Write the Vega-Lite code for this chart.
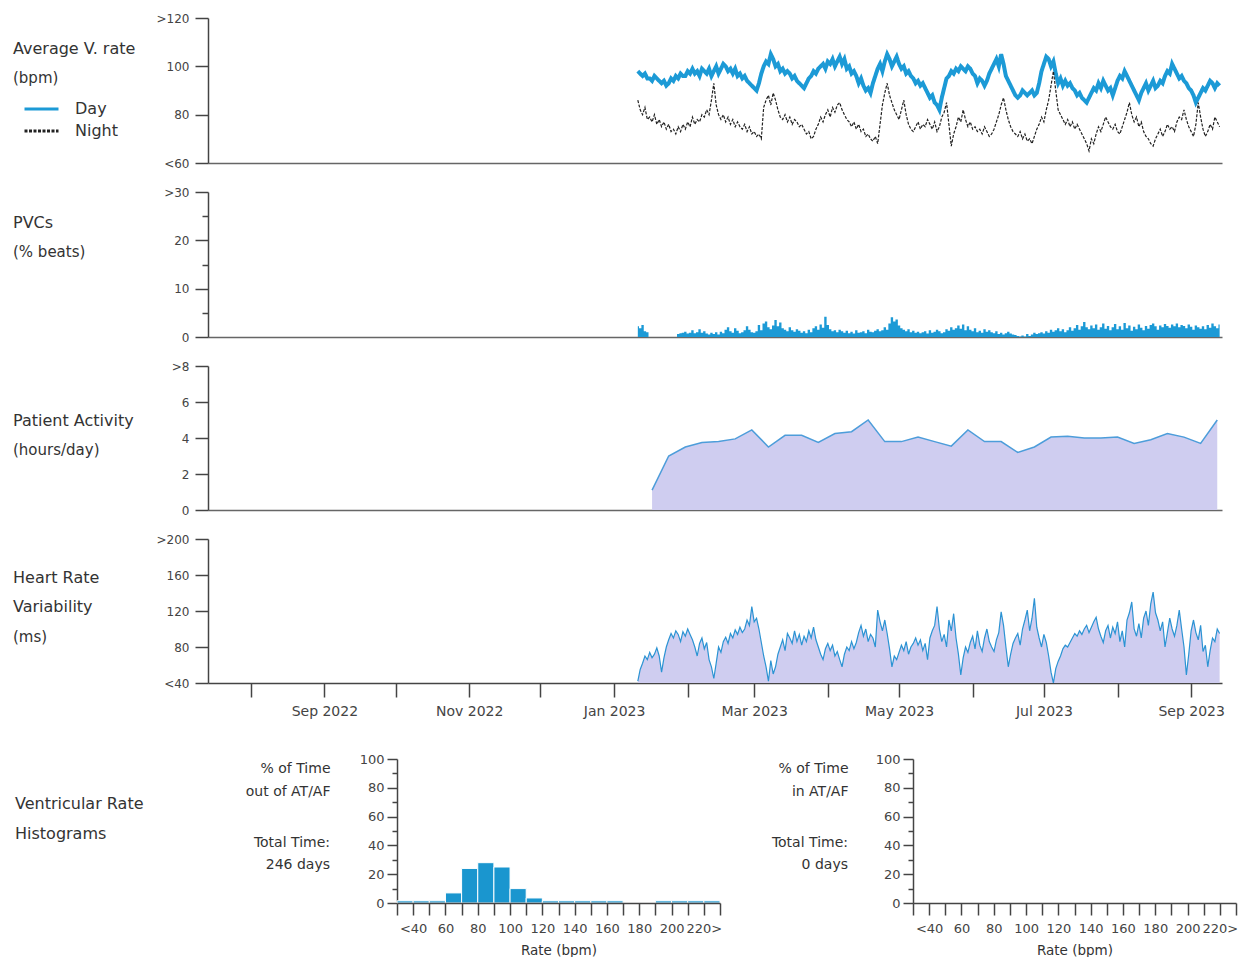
{
"$schema":"https://vega.github.io/schema/vega-lite/v6.json",
"background":"white",
"padding":{"left":13,"top":12,"right":0,"bottom":0},
"config":{"font":"DejaVu Sans","view":{"stroke":null},
 "axis":{"grid":false,"domainColor":"#444","tickColor":"#444","labelColor":"#444","labelFontSize":12,"domainWidth":1.5,"tickWidth":1.5,"titleFontWeight":"normal","titleColor":"#333","labelOverlap":false,"labelFlush":false},
 "title":{"fontWeight":"normal","color":"#333","subtitleColor":"#333","anchor":"start","frame":"group","fontSize":16,"subtitleFontSize":15,"offset":0,"subtitlePadding":14}},
"datasets":{
"daily":[
{"date":"2023-01-11","day":98,"night":86,"pvc":2.2,"hrv":42},
{"date":"2023-01-12","day":97,"night":82,"pvc":1.8,"hrv":55},
{"date":"2023-01-13","day":96,"night":80,"pvc":2.5,"hrv":62},
{"date":"2023-01-14","day":97,"night":83,"pvc":1.2,"hrv":70},
{"date":"2023-01-15","day":95,"night":78,"pvc":1.0,"hrv":66},
{"date":"2023-01-16","day":95,"night":79,"pvc":0,"hrv":74},
{"date":"2023-01-17","day":94,"night":77,"pvc":0,"hrv":68},
{"date":"2023-01-18","day":96,"night":80,"pvc":0,"hrv":72},
{"date":"2023-01-19","day":95,"night":76,"pvc":0,"hrv":79},
{"date":"2023-01-20","day":94,"night":78,"pvc":0,"hrv":70},
{"date":"2023-01-21","day":93,"night":75,"pvc":0,"hrv":52},
{"date":"2023-01-22","day":94,"night":77,"pvc":0,"hrv":68},
{"date":"2023-01-23","day":92,"night":74,"pvc":0,"hrv":80},
{"date":"2023-01-24","day":93,"night":76,"pvc":0,"hrv":88},
{"date":"2023-01-25","day":95,"night":73,"pvc":0,"hrv":95},
{"date":"2023-01-26","day":94,"night":74,"pvc":0,"hrv":90},
{"date":"2023-01-27","day":96,"night":72,"pvc":0,"hrv":98},
{"date":"2023-01-28","day":95,"night":75,"pvc":0.6,"hrv":94},
{"date":"2023-01-29","day":97,"night":73,"pvc":0.8,"hrv":86},
{"date":"2023-01-30","day":96,"night":76,"pvc":0.9,"hrv":97},
{"date":"2023-01-31","day":96,"night":74,"pvc":1.1,"hrv":92},
{"date":"2023-02-01","day":98,"night":77,"pvc":0.7,"hrv":100},
{"date":"2023-02-02","day":97,"night":75,"pvc":0.9,"hrv":94},
{"date":"2023-02-03","day":99,"night":79,"pvc":1.4,"hrv":88},
{"date":"2023-02-04","day":97,"night":76,"pvc":0.8,"hrv":80},
{"date":"2023-02-05","day":98,"night":78,"pvc":1.0,"hrv":70},
{"date":"2023-02-06","day":96,"night":77,"pvc":1.6,"hrv":84},
{"date":"2023-02-07","day":99,"night":80,"pvc":0.9,"hrv":90},
{"date":"2023-02-08","day":98,"night":79,"pvc":1.2,"hrv":78},
{"date":"2023-02-09","day":97,"night":82,"pvc":0.7,"hrv":85},
{"date":"2023-02-10","day":99,"night":80,"pvc":0.5,"hrv":66},
{"date":"2023-02-11","day":96,"night":86,"pvc":0.9,"hrv":58},
{"date":"2023-02-12","day":98,"night":93,"pvc":0.6,"hrv":45},
{"date":"2023-02-13","day":100,"night":84,"pvc":1.0,"hrv":62},
{"date":"2023-02-14","day":97,"night":80,"pvc":0.5,"hrv":80},
{"date":"2023-02-15","day":99,"night":78,"pvc":1.1,"hrv":74},
{"date":"2023-02-16","day":101,"night":80,"pvc":0.8,"hrv":86},
{"date":"2023-02-17","day":100,"night":77,"pvc":1.5,"hrv":91},
{"date":"2023-02-18","day":98,"night":79,"pvc":2.0,"hrv":84},
{"date":"2023-02-19","day":99,"night":76,"pvc":1.2,"hrv":95},
{"date":"2023-02-20","day":97,"night":78,"pvc":0.9,"hrv":90},
{"date":"2023-02-21","day":99,"night":75,"pvc":1.8,"hrv":99},
{"date":"2023-02-22","day":96,"night":77,"pvc":1.3,"hrv":94},
{"date":"2023-02-23","day":97,"night":75,"pvc":0.8,"hrv":102},
{"date":"2023-02-24","day":95,"night":74,"pvc":1.0,"hrv":96},
{"date":"2023-02-25","day":96,"night":76,"pvc":1.4,"hrv":100},
{"date":"2023-02-26","day":94,"night":73,"pvc":2.2,"hrv":110},
{"date":"2023-02-27","day":93,"night":75,"pvc":1.5,"hrv":104},
{"date":"2023-02-28","day":92,"night":72,"pvc":1.0,"hrv":125},
{"date":"2023-03-01","day":91,"night":73,"pvc":0.9,"hrv":108},
{"date":"2023-03-02","day":90,"night":71,"pvc":1.2,"hrv":112},
{"date":"2023-03-03","day":93,"night":72,"pvc":2.5,"hrv":100},
{"date":"2023-03-04","day":97,"night":70,"pvc":1.4,"hrv":85},
{"date":"2023-03-05","day":100,"night":83,"pvc":2.8,"hrv":70},
{"date":"2023-03-06","day":102,"night":86,"pvc":3.2,"hrv":58},
{"date":"2023-03-07","day":101,"night":88,"pvc":2.0,"hrv":42},
{"date":"2023-03-08","day":105,"night":84,"pvc":1.6,"hrv":65},
{"date":"2023-03-09","day":103,"night":89,"pvc":2.4,"hrv":50},
{"date":"2023-03-10","day":100,"night":86,"pvc":3.5,"hrv":58},
{"date":"2023-03-11","day":101,"night":82,"pvc":2.2,"hrv":72},
{"date":"2023-03-12","day":98,"night":79,"pvc":3.0,"hrv":80},
{"date":"2023-03-13","day":99,"night":78,"pvc":1.8,"hrv":88},
{"date":"2023-03-14","day":97,"night":80,"pvc":1.5,"hrv":76},
{"date":"2023-03-15","day":98,"night":77,"pvc":1.2,"hrv":95},
{"date":"2023-03-16","day":97,"night":79,"pvc":2.0,"hrv":90},
{"date":"2023-03-17","day":95,"night":76,"pvc":1.4,"hrv":84},
{"date":"2023-03-18","day":96,"night":78,"pvc":1.1,"hrv":98},
{"date":"2023-03-19","day":94,"night":77,"pvc":1.6,"hrv":86},
{"date":"2023-03-20","day":93,"night":75,"pvc":1.3,"hrv":94},
{"date":"2023-03-21","day":92,"night":76,"pvc":0.9,"hrv":82},
{"date":"2023-03-22","day":91,"night":74,"pvc":1.2,"hrv":92},
{"date":"2023-03-23","day":93,"night":72,"pvc":0.8,"hrv":86},
{"date":"2023-03-24","day":95,"night":73,"pvc":1.5,"hrv":98},
{"date":"2023-03-25","day":96,"night":70,"pvc":1.0,"hrv":90},
{"date":"2023-03-26","day":98,"night":71,"pvc":1.8,"hrv":102},
{"date":"2023-03-27","day":97,"night":74,"pvc":2.2,"hrv":88},
{"date":"2023-03-28","day":99,"night":76,"pvc":1.5,"hrv":80},
{"date":"2023-03-29","day":100,"night":79,"pvc":2.6,"hrv":72},
{"date":"2023-03-30","day":101,"night":77,"pvc":1.9,"hrv":66},
{"date":"2023-03-31","day":99,"night":80,"pvc":4.2,"hrv":78},
{"date":"2023-04-01","day":102,"night":82,"pvc":2.5,"hrv":84},
{"date":"2023-04-02","day":101,"night":79,"pvc":1.6,"hrv":76},
{"date":"2023-04-03","day":103,"night":83,"pvc":1.2,"hrv":82},
{"date":"2023-04-04","day":100,"night":81,"pvc":1.4,"hrv":70},
{"date":"2023-04-05","day":102,"night":84,"pvc":1.0,"hrv":75},
{"date":"2023-04-06","day":104,"night":85,"pvc":1.5,"hrv":66},
{"date":"2023-04-07","day":101,"night":82,"pvc":1.2,"hrv":58},
{"date":"2023-04-08","day":103,"night":80,"pvc":0.9,"hrv":72},
{"date":"2023-04-09","day":99,"night":78,"pvc":1.3,"hrv":80},
{"date":"2023-04-10","day":100,"night":77,"pvc":0.8,"hrv":76},
{"date":"2023-04-11","day":97,"night":75,"pvc":1.1,"hrv":86},
{"date":"2023-04-12","day":98,"night":77,"pvc":0.7,"hrv":78},
{"date":"2023-04-13","day":96,"night":74,"pvc":1.4,"hrv":85},
{"date":"2023-04-14","day":93,"night":76,"pvc":0.9,"hrv":96},
{"date":"2023-04-15","day":95,"night":73,"pvc":1.0,"hrv":104},
{"date":"2023-04-16","day":92,"night":74,"pvc":1.2,"hrv":92},
{"date":"2023-04-17","day":90,"night":71,"pvc":0.8,"hrv":100},
{"date":"2023-04-18","day":91,"night":72,"pvc":1.5,"hrv":86},
{"date":"2023-04-19","day":89,"night":70,"pvc":1.1,"hrv":94},
{"date":"2023-04-20","day":93,"night":69,"pvc":1.0,"hrv":90},
{"date":"2023-04-21","day":96,"night":71,"pvc":1.3,"hrv":80},
{"date":"2023-04-22","day":99,"night":68,"pvc":1.6,"hrv":121},
{"date":"2023-04-23","day":101,"night":76,"pvc":1.2,"hrv":108},
{"date":"2023-04-24","day":98,"night":84,"pvc":1.4,"hrv":98},
{"date":"2023-04-25","day":102,"night":89,"pvc":2.0,"hrv":110},
{"date":"2023-04-26","day":105,"night":93,"pvc":1.5,"hrv":95},
{"date":"2023-04-27","day":103,"night":88,"pvc":2.8,"hrv":78},
{"date":"2023-04-28","day":100,"night":85,"pvc":4.1,"hrv":58},
{"date":"2023-04-29","day":102,"night":82,"pvc":3.2,"hrv":70},
{"date":"2023-04-30","day":104,"night":80,"pvc":3.6,"hrv":66},
{"date":"2023-05-01","day":101,"night":78,"pvc":2.4,"hrv":74},
{"date":"2023-05-02","day":99,"night":82,"pvc":1.8,"hrv":82},
{"date":"2023-05-03","day":100,"night":86,"pvc":1.5,"hrv":76},
{"date":"2023-05-04","day":97,"night":80,"pvc":1.2,"hrv":86},
{"date":"2023-05-05","day":98,"night":76,"pvc":1.6,"hrv":72},
{"date":"2023-05-06","day":96,"night":74,"pvc":1.0,"hrv":80},
{"date":"2023-05-07","day":95,"night":73,"pvc":1.3,"hrv":84},
{"date":"2023-05-08","day":93,"night":75,"pvc":0.9,"hrv":90},
{"date":"2023-05-09","day":94,"night":77,"pvc":1.1,"hrv":82},
{"date":"2023-05-10","day":92,"night":74,"pvc":0.8,"hrv":88},
{"date":"2023-05-11","day":93,"night":76,"pvc":1.0,"hrv":76},
{"date":"2023-05-12","day":91,"night":75,"pvc":1.2,"hrv":84},
{"date":"2023-05-13","day":89,"night":78,"pvc":0.7,"hrv":66},
{"date":"2023-05-14","day":87,"night":76,"pvc":1.4,"hrv":90},
{"date":"2023-05-15","day":88,"night":74,"pvc":0.9,"hrv":98},
{"date":"2023-05-16","day":85,"night":77,"pvc":1.1,"hrv":104},
{"date":"2023-05-17","day":84,"night":73,"pvc":1.5,"hrv":125},
{"date":"2023-05-18","day":82,"night":75,"pvc":1.2,"hrv":100},
{"date":"2023-05-19","day":87,"night":79,"pvc":0.8,"hrv":86},
{"date":"2023-05-20","day":91,"night":81,"pvc":1.0,"hrv":94},
{"date":"2023-05-21","day":95,"night":85,"pvc":1.6,"hrv":80},
{"date":"2023-05-22","day":96,"night":76,"pvc":1.3,"hrv":110},
{"date":"2023-05-23","day":98,"night":67,"pvc":2.0,"hrv":98},
{"date":"2023-05-24","day":97,"night":72,"pvc":1.5,"hrv":117},
{"date":"2023-05-25","day":99,"night":75,"pvc":1.8,"hrv":90},
{"date":"2023-05-26","day":98,"night":79,"pvc":2.4,"hrv":72},
{"date":"2023-05-27","day":100,"night":77,"pvc":1.7,"hrv":49},
{"date":"2023-05-28","day":99,"night":82,"pvc":2.6,"hrv":68},
{"date":"2023-05-29","day":98,"night":78,"pvc":1.4,"hrv":80},
{"date":"2023-05-30","day":100,"night":75,"pvc":2.2,"hrv":74},
{"date":"2023-05-31","day":99,"night":77,"pvc":1.5,"hrv":85},
{"date":"2023-06-01","day":97,"night":74,"pvc":1.2,"hrv":92},
{"date":"2023-06-02","day":96,"night":75,"pvc":1.8,"hrv":78},
{"date":"2023-06-03","day":93,"night":73,"pvc":1.0,"hrv":98},
{"date":"2023-06-04","day":95,"night":74,"pvc":1.3,"hrv":82},
{"date":"2023-06-05","day":94,"night":72,"pvc":0.9,"hrv":75},
{"date":"2023-06-06","day":92,"night":75,"pvc":1.6,"hrv":90},
{"date":"2023-06-07","day":94,"night":73,"pvc":1.1,"hrv":100},
{"date":"2023-06-08","day":97,"night":71,"pvc":1.4,"hrv":86},
{"date":"2023-06-09","day":99,"night":72,"pvc":1.0,"hrv":80},
{"date":"2023-06-10","day":101,"night":74,"pvc":0.8,"hrv":75},
{"date":"2023-06-11","day":103,"night":77,"pvc":1.2,"hrv":88},
{"date":"2023-06-12","day":100,"night":80,"pvc":0.6,"hrv":96},
{"date":"2023-06-13","day":105,"night":84,"pvc":0.9,"hrv":119},
{"date":"2023-06-14","day":101,"night":87,"pvc":0.5,"hrv":104},
{"date":"2023-06-15","day":96,"night":82,"pvc":0.8,"hrv":80},
{"date":"2023-06-16","day":94,"night":78,"pvc":1.1,"hrv":58},
{"date":"2023-06-17","day":92,"night":75,"pvc":0.7,"hrv":72},
{"date":"2023-06-18","day":90,"night":73,"pvc":0.5,"hrv":84},
{"date":"2023-06-19","day":88,"night":72,"pvc":0.4,"hrv":90},
{"date":"2023-06-20","day":87,"night":71,"pvc":0.2,"hrv":95},
{"date":"2023-06-21","day":88,"night":73,"pvc":0.1,"hrv":82},
{"date":"2023-06-22","day":90,"night":70,"pvc":0.3,"hrv":100},
{"date":"2023-06-23","day":89,"night":72,"pvc":0.1,"hrv":110},
{"date":"2023-06-24","day":88,"night":69,"pvc":0.6,"hrv":121},
{"date":"2023-06-25","day":89,"night":70,"pvc":0.2,"hrv":98},
{"date":"2023-06-26","day":90,"night":68,"pvc":0.5,"hrv":112},
{"date":"2023-06-27","day":88,"night":71,"pvc":0.9,"hrv":134},
{"date":"2023-06-28","day":89,"night":74,"pvc":0.6,"hrv":102},
{"date":"2023-06-29","day":93,"night":76,"pvc":0.8,"hrv":90},
{"date":"2023-06-30","day":98,"night":79,"pvc":1.0,"hrv":80},
{"date":"2023-07-01","day":101,"night":77,"pvc":0.7,"hrv":94},
{"date":"2023-07-02","day":104,"night":82,"pvc":1.2,"hrv":85},
{"date":"2023-07-03","day":103,"night":86,"pvc":0.9,"hrv":70},
{"date":"2023-07-04","day":100,"night":92,"pvc":1.5,"hrv":52},
{"date":"2023-07-05","day":102,"night":98,"pvc":1.1,"hrv":40},
{"date":"2023-07-06","day":97,"night":90,"pvc":1.4,"hrv":56},
{"date":"2023-07-07","day":93,"night":82,"pvc":1.8,"hrv":64},
{"date":"2023-07-08","day":95,"night":80,"pvc":1.2,"hrv":70},
{"date":"2023-07-09","day":92,"night":78,"pvc":1.6,"hrv":78},
{"date":"2023-07-10","day":94,"night":76,"pvc":1.0,"hrv":82},
{"date":"2023-07-11","day":92,"night":78,"pvc":1.4,"hrv":80},
{"date":"2023-07-12","day":93,"night":75,"pvc":2.0,"hrv":85},
{"date":"2023-07-13","day":91,"night":77,"pvc":1.3,"hrv":90},
{"date":"2023-07-14","day":90,"night":74,"pvc":1.8,"hrv":95},
{"date":"2023-07-15","day":88,"night":76,"pvc":2.5,"hrv":92},
{"date":"2023-07-16","day":89,"night":74,"pvc":1.5,"hrv":98},
{"date":"2023-07-17","day":87,"night":72,"pvc":2.2,"hrv":94},
{"date":"2023-07-18","day":86,"night":70,"pvc":3.1,"hrv":100},
{"date":"2023-07-19","day":85,"night":68,"pvc":2.0,"hrv":104},
{"date":"2023-07-20","day":87,"night":65,"pvc":1.6,"hrv":96},
{"date":"2023-07-21","day":89,"night":70,"pvc":2.4,"hrv":102},
{"date":"2023-07-22","day":91,"night":68,"pvc":1.8,"hrv":108},
{"date":"2023-07-23","day":90,"night":72,"pvc":2.6,"hrv":113},
{"date":"2023-07-24","day":93,"night":75,"pvc":1.5,"hrv":100},
{"date":"2023-07-25","day":91,"night":73,"pvc":2.0,"hrv":92},
{"date":"2023-07-26","day":94,"night":76,"pvc":2.8,"hrv":85},
{"date":"2023-07-27","day":92,"night":79,"pvc":1.7,"hrv":98},
{"date":"2023-07-28","day":90,"night":77,"pvc":2.3,"hrv":104},
{"date":"2023-07-29","day":91,"night":75,"pvc":1.4,"hrv":90},
{"date":"2023-07-30","day":88,"night":74,"pvc":2.0,"hrv":102},
{"date":"2023-07-31","day":91,"night":76,"pvc":2.7,"hrv":95},
{"date":"2023-08-01","day":94,"night":73,"pvc":1.6,"hrv":108},
{"date":"2023-08-02","day":96,"night":72,"pvc":2.2,"hrv":86},
{"date":"2023-08-03","day":95,"night":75,"pvc":1.5,"hrv":98},
{"date":"2023-08-04","day":98,"night":78,"pvc":2.9,"hrv":80},
{"date":"2023-08-05","day":96,"night":81,"pvc":1.8,"hrv":110},
{"date":"2023-08-06","day":94,"night":85,"pvc":2.4,"hrv":118},
{"date":"2023-08-07","day":92,"night":80,"pvc":1.3,"hrv":130},
{"date":"2023-08-08","day":90,"night":77,"pvc":2.1,"hrv":100},
{"date":"2023-08-09","day":88,"night":79,"pvc":1.6,"hrv":92},
{"date":"2023-08-10","day":86,"night":75,"pvc":2.6,"hrv":106},
{"date":"2023-08-11","day":89,"night":77,"pvc":1.9,"hrv":90},
{"date":"2023-08-12","day":91,"night":73,"pvc":1.4,"hrv":112},
{"date":"2023-08-13","day":93,"night":71,"pvc":2.3,"hrv":120},
{"date":"2023-08-14","day":90,"night":70,"pvc":1.7,"hrv":104},
{"date":"2023-08-15","day":92,"night":68,"pvc":2.5,"hrv":128},
{"date":"2023-08-16","day":94,"night":67,"pvc":2.8,"hrv":141},
{"date":"2023-08-17","day":91,"night":70,"pvc":2.2,"hrv":118},
{"date":"2023-08-18","day":92,"night":72,"pvc":1.5,"hrv":110},
{"date":"2023-08-19","day":94,"night":74,"pvc":2.4,"hrv":98},
{"date":"2023-08-20","day":93,"night":71,"pvc":2.0,"hrv":108},
{"date":"2023-08-21","day":96,"night":73,"pvc":2.7,"hrv":80},
{"date":"2023-08-22","day":98,"night":76,"pvc":2.3,"hrv":96},
{"date":"2023-08-23","day":97,"night":74,"pvc":1.9,"hrv":112},
{"date":"2023-08-24","day":101,"night":75,"pvc":2.6,"hrv":100},
{"date":"2023-08-25","day":99,"night":73,"pvc":2.2,"hrv":92},
{"date":"2023-08-26","day":97,"night":77,"pvc":2.8,"hrv":104},
{"date":"2023-08-27","day":95,"night":79,"pvc":2.0,"hrv":121},
{"date":"2023-08-28","day":96,"night":78,"pvc":2.5,"hrv":100},
{"date":"2023-08-29","day":94,"night":82,"pvc":2.3,"hrv":80},
{"date":"2023-08-30","day":93,"night":78,"pvc":1.8,"hrv":49},
{"date":"2023-08-31","day":91,"night":75,"pvc":2.6,"hrv":72},
{"date":"2023-09-01","day":90,"night":73,"pvc":2.1,"hrv":98},
{"date":"2023-09-02","day":88,"night":71,"pvc":1.5,"hrv":110},
{"date":"2023-09-03","day":85,"night":76,"pvc":2.4,"hrv":96},
{"date":"2023-09-04","day":87,"night":85,"pvc":2.0,"hrv":88},
{"date":"2023-09-05","day":89,"night":79,"pvc":1.7,"hrv":104},
{"date":"2023-09-06","day":91,"night":74,"pvc":2.2,"hrv":75},
{"date":"2023-09-07","day":90,"night":71,"pvc":1.6,"hrv":82},
{"date":"2023-09-08","day":92,"night":73,"pvc":2.5,"hrv":58},
{"date":"2023-09-09","day":94,"night":76,"pvc":1.9,"hrv":76},
{"date":"2023-09-10","day":93,"night":74,"pvc":2.8,"hrv":90},
{"date":"2023-09-11","day":91,"night":79,"pvc":2.2,"hrv":86},
{"date":"2023-09-12","day":93,"night":77,"pvc":1.8,"hrv":100},
{"date":"2023-09-13","day":92,"night":75,"pvc":2.6,"hrv":95}
],
"activity":[
{"date":"2023-01-17","hours":1.1},{"date":"2023-01-24","hours":3.0},{"date":"2023-01-31","hours":3.5},
{"date":"2023-02-07","hours":3.75},{"date":"2023-02-14","hours":3.8},{"date":"2023-02-21","hours":3.95},
{"date":"2023-02-28","hours":4.45},{"date":"2023-03-07","hours":3.5},{"date":"2023-03-14","hours":4.15},
{"date":"2023-03-21","hours":4.15},{"date":"2023-03-28","hours":3.75},{"date":"2023-04-04","hours":4.25},
{"date":"2023-04-11","hours":4.35},{"date":"2023-04-18","hours":5.0},{"date":"2023-04-25","hours":3.8},
{"date":"2023-05-02","hours":3.8},{"date":"2023-05-09","hours":4.05},{"date":"2023-05-16","hours":3.8},
{"date":"2023-05-23","hours":3.55},{"date":"2023-05-30","hours":4.45},{"date":"2023-06-06","hours":3.8},
{"date":"2023-06-13","hours":3.8},{"date":"2023-06-20","hours":3.2},{"date":"2023-06-27","hours":3.5},
{"date":"2023-07-04","hours":4.05},{"date":"2023-07-11","hours":4.1},{"date":"2023-07-18","hours":4.0},
{"date":"2023-07-25","hours":4.0},{"date":"2023-08-01","hours":4.05},{"date":"2023-08-08","hours":3.7},
{"date":"2023-08-15","hours":3.9},{"date":"2023-08-22","hours":4.25},{"date":"2023-08-29","hours":4.05},
{"date":"2023-09-05","hours":3.7},{"date":"2023-09-12","hours":5.0}
],
"hist":[
{"lo":30,"hi":40,"outAF":1.5,"inAF":0},{"lo":40,"hi":50,"outAF":1.5,"inAF":0},{"lo":50,"hi":60,"outAF":1.5,"inAF":0},
{"lo":60,"hi":70,"outAF":7,"inAF":0},{"lo":70,"hi":80,"outAF":24,"inAF":0},{"lo":80,"hi":90,"outAF":28,"inAF":0},
{"lo":90,"hi":100,"outAF":25,"inAF":0},{"lo":100,"hi":110,"outAF":10,"inAF":0},{"lo":110,"hi":120,"outAF":3.5,"inAF":0},
{"lo":120,"hi":130,"outAF":1.5,"inAF":0},{"lo":130,"hi":140,"outAF":1.5,"inAF":0},{"lo":140,"hi":150,"outAF":1.5,"inAF":0},
{"lo":150,"hi":160,"outAF":1.5,"inAF":0},{"lo":160,"hi":170,"outAF":1.5,"inAF":0},{"lo":170,"hi":180,"outAF":0,"inAF":0},
{"lo":180,"hi":190,"outAF":0,"inAF":0},{"lo":190,"hi":200,"outAF":1.5,"inAF":0},{"lo":200,"hi":210,"outAF":1.5,"inAF":0},
{"lo":210,"hi":220,"outAF":1.5,"inAF":0},{"lo":220,"hi":230,"outAF":1.5,"inAF":0}
]
},
"vconcat":[
{"vconcat":[
 {"width":1014,"height":145,"data":{"name":"daily"},
  "title":{"text":"Average V. rate","subtitle":"(bpm)","dx":-195,"dy":78},
  "encoding":{"x":{"field":"date","type":"temporal","scale":{"domain":[{"year":2022,"month":7,"date":14},{"year":2023,"month":9,"date":14}]},"axis":{"labels":false,"ticks":false,"title":null,"domainColor":"#666"}}},
  "layer":[
   {"mark":{"type":"line","strokeWidth":4,"clip":true},
    "encoding":{"y":{"field":"day","type":"quantitative","scale":{"domain":[60,120],"nice":false,"zero":false},
      "axis":{"values":[60,80,100,120],"labelExpr":"datum.value==120?'>120':datum.value==60?'<60':datum.label","title":null,"tickSize":13,"labelPadding":6}},
     "color":{"datum":"Day","type":"nominal","scale":{"domain":["Day","Night"],"range":["#1C9AD6","#222222"]},
      "legend":{"title":null,"orient":"none","legendX":-185,"legendY":83,"symbolType":"stroke","symbolSize":1156,"symbolStrokeWidth":3,"clipHeight":16,"labelFontSize":16,"labelColor":"#333","labelOffset":15,"rowPadding":6,"padding":0}},
     "strokeDash":{"datum":"Day","type":"nominal","scale":{"domain":["Day","Night"],"range":[[1,0],[3,1.5]]},
      "legend":{"title":null,"orient":"none","legendX":-185,"legendY":83,"symbolType":"stroke","symbolSize":1156,"symbolStrokeWidth":3,"clipHeight":16,"labelFontSize":16,"labelColor":"#333","labelOffset":15,"rowPadding":6,"padding":0}}}},
   {"mark":{"type":"line","strokeWidth":1.2,"clip":true},
    "encoding":{"y":{"field":"night","type":"quantitative"},
     "color":{"datum":"Night","type":"nominal"},
     "strokeDash":{"datum":"Night","type":"nominal"}}}
  ]},
 {"width":1014,"height":145,"data":{"name":"daily"},
  "title":{"text":"PVCs","subtitle":"(% beats)","dx":-195,"dy":78},
  "mark":{"type":"area","interpolate":"step","color":"#1C9AD6","opacity":1,"clip":true},
  "encoding":{"x":{"field":"date","type":"temporal","scale":{"domain":[{"year":2022,"month":7,"date":14},{"year":2023,"month":9,"date":14}]},"axis":{"labels":false,"ticks":false,"title":null,"domainColor":"#666"}},
   "y":{"field":"pvc","type":"quantitative","scale":{"domain":[0,30],"nice":false},
    "axis":{"values":[0,5,10,15,20,25,30],"labelExpr":"datum.value==30?'>30':datum.value%10==0?datum.label:''","title":null,"tickSize":{"condition":{"test":"datum.value%10==0","value":13},"value":6},"labelPadding":6}}}},
 {"width":1014,"height":144,"data":{"name":"activity"},
  "title":{"text":"Patient Activity","subtitle":"(hours/day)","dx":-195,"dy":102},
  "mark":{"type":"area","color":"#CFCDF0","opacity":1,"line":{"color":"#4D9DDA","strokeWidth":1.5},"clip":true},
  "encoding":{"x":{"field":"date","type":"temporal","scale":{"domain":[{"year":2022,"month":7,"date":14},{"year":2023,"month":9,"date":14}]},"axis":{"labels":false,"ticks":false,"title":null,"domainColor":"#666"}},
   "y":{"field":"hours","type":"quantitative","scale":{"domain":[0,8],"nice":false},
    "axis":{"values":[0,2,4,6,8],"labelExpr":"datum.value==8?'>8':datum.label","title":null,"tickSize":13,"labelPadding":6}}}},
 {"width":1014,"height":144,"data":{"name":"daily"},
  "title":{"text":["Heart Rate","Variability"],"subtitle":"(ms)","dx":-195,"dy":116,"lineHeight":29,"subtitlePadding":15},
  "mark":{"type":"area","color":"#CFCDF0","opacity":1,"line":{"color":"#2B93D3","strokeWidth":1.2},"clip":true},
  "encoding":{"x":{"field":"date","type":"temporal","scale":{"domain":[{"year":2022,"month":7,"date":14},{"year":2023,"month":9,"date":14}]},
    "axis":{"tickCount":{"interval":"month","step":1},"labelExpr":"month(datum.value)%2==0?timeFormat(datum.value,'%b %Y'):''","title":null,"tickSize":14,"labelFontSize":14,"labelPadding":7}},
   "y":{"field":"hrv","type":"quantitative","scale":{"domain":[40,200],"nice":false,"zero":false},
    "axis":{"values":[40,80,120,160,200],"labelExpr":"datum.value==200?'>200':datum.value==40?'<40':datum.label","title":null,"tickSize":13,"labelPadding":6}},
   "y2":{"datum":40}}}
],"spacing":17},
{"hconcat":[
 {"width":17,"height":144,"data":{"values":[{}]},
  "title":{"text":["Ventricular Rate","Histograms"],"dx":-193,"dy":87,"lineHeight":30},
  "mark":{"type":"text"},"encoding":{"text":{"value":""}}},
 {"hconcat":[
  {"width":323,"height":144,"data":{"name":"hist"},
   "title":{"text":["Total Time:","246 days"],"align":"right","dx":-67,"dy":123,"fontSize":14,"lineHeight":22},
   "mark":{"type":"bar","color":"#1A96CF","stroke":"white","strokeWidth":1},
   "encoding":{"x":{"field":"lo","type":"quantitative","scale":{"domain":[30,230],"nice":false,"zero":false},
     "axis":{"zindex":1,"values":[30,40,50,60,70,80,90,100,110,120,130,140,150,160,170,180,190,200,210,220,230],"labelExpr":"datum.value==40?'<40':datum.value==220?'220>':datum.value%20==0?datum.label:''","title":"Rate (bpm)","titleFontSize":13.5,"tickSize":12,"labelFontSize":13,"labelPadding":7,"titlePadding":8}},
    "x2":{"field":"hi"},
    "y":{"field":"outAF","type":"quantitative","scale":{"domain":[0,100],"nice":false},
     "axis":{"values":[0,10,20,30,40,50,60,70,80,90,100],"labelExpr":"datum.value%20==0?datum.label:''","tickSize":{"condition":{"test":"datum.value%20==0","value":10},"value":5},"labelFontSize":13,"labelPadding":3,
      "title":["% of Time","out of AT/AF"],"titleAngle":0,"titleAlign":"right","titleBaseline":"top","titleX":-67,"titleY":2,"titleFontSize":14,"titleLineHeight":23}},
    "y2":{"datum":0}}},
  {"width":323,"height":144,"data":{"name":"hist"},
   "title":{"text":["Total Time:","0 days"],"align":"right","dx":-65,"dy":123,"fontSize":14,"lineHeight":22},
   "mark":{"type":"bar","color":"#1A96CF"},
   "encoding":{"x":{"field":"lo","type":"quantitative","scale":{"domain":[30,230],"nice":false,"zero":false},
     "axis":{"zindex":1,"values":[30,40,50,60,70,80,90,100,110,120,130,140,150,160,170,180,190,200,210,220,230],"labelExpr":"datum.value==40?'<40':datum.value==220?'220>':datum.value%20==0?datum.label:''","title":"Rate (bpm)","titleFontSize":13.5,"tickSize":12,"labelFontSize":13,"labelPadding":7,"titlePadding":8}},
    "x2":{"field":"hi"},
    "y":{"field":"inAF","type":"quantitative","scale":{"domain":[0,100],"nice":false},
     "axis":{"values":[0,10,20,30,40,50,60,70,80,90,100],"labelExpr":"datum.value%20==0?datum.label:''","tickSize":{"condition":{"test":"datum.value%20==0","value":10},"value":5},"labelFontSize":13,"labelPadding":3,
      "title":["% of Time","in AT/AF"],"titleAngle":0,"titleAlign":"right","titleBaseline":"top","titleX":-65,"titleY":2,"titleFontSize":14,"titleLineHeight":23}},
    "y2":{"datum":0}}}
 ],"spacing":49}
],"spacing":20}
],"spacing":35}
